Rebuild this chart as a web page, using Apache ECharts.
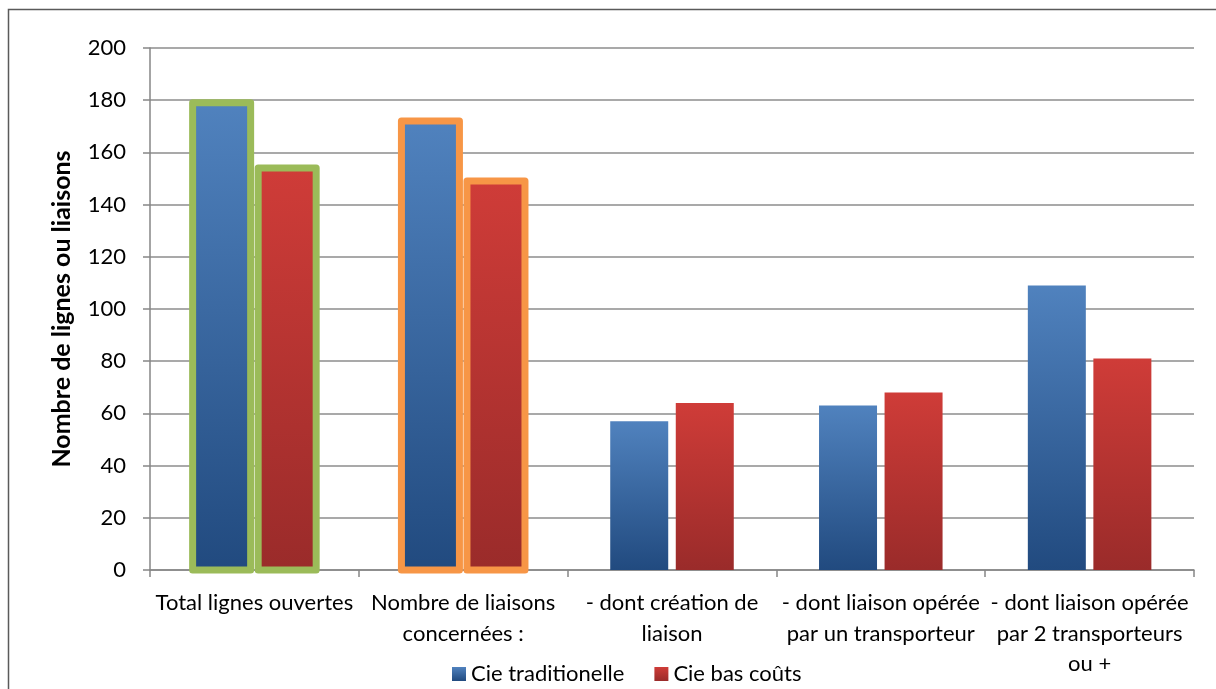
<!DOCTYPE html>
<html>
<head>
<meta charset="utf-8">
<script src="https://cdn.jsdelivr.net/npm/echarts@6/dist/echarts.min.js"></script>
<style>
  html, body { margin: 0; padding: 0; background: #ffffff; }
  #chart { width: 1216px; height: 689px; }
</style>
</head>
<body>
<div id="chart"></div>
<script>
// Categories of routes (lines break where the axis labels wrap)
const categories = [
  'Total lignes ouvertes',
  'Nombre de liaisons\nconcernées :',
  '- dont création de\nliaison',
  '- dont liaison opérée\npar un transporteur',
  '- dont liaison opérée\npar 2 transporteurs\nou +'
];
const seriesNames = ['Cie traditionelle', 'Cie bas coûts'];
const traditionnelle = [179, 172, 57, 63, 109];
const basCouts = [154, 149, 64, 68, 81];
const yTicks = { min: 0, max: 200, interval: 20 };
const yAxisTitle = 'Nombre de lignes ou liaisons';
// outline colour per category (null = no outline)
const outlineColors = ['#9bbb59', '#f79646', null, null, null];

const FONT = 'Lato, "Open Sans", sans-serif';
const BAR_WIDTH = 58;
const BAR_GAP = 0.13; // fraction of the bar width

const blueFill = new echarts.graphic.LinearGradient(0, 0, 0, 1, [
  { offset: 0, color: '#5082be' },
  { offset: 1, color: '#214a7f' }
]);
const redFill = new echarts.graphic.LinearGradient(0, 0, 0, 1, [
  { offset: 0, color: '#cf3c38' },
  { offset: 1, color: '#9a2b2a' }
]);

// rows for the outline overlay: [categoryIndex, value, seriesIndex]
const outlineRows = [];
categories.forEach((c, i) => {
  if (outlineColors[i]) {
    outlineRows.push([i, traditionnelle[i], 0]);
    outlineRows.push([i, basCouts[i], 1]);
  }
});

// outline drawn centred on the bar edge, using the axes' own coordinates
function renderOutline(params, api) {
  const cat = api.value(0);
  const val = api.value(1);
  const s = api.value(2);
  const top = api.coord([cat, val]);
  const base = api.coord([cat, 0]);
  const gap = BAR_WIDTH * BAR_GAP;
  const total = BAR_WIDTH * 2 + gap;
  const left = top[0] - total / 2 + s * (BAR_WIDTH + gap);
  return {
    type: 'rect',
    shape: { x: left, y: top[1], width: BAR_WIDTH, height: base[1] - top[1] },
    style: {
      fill: 'none',
      stroke: outlineColors[cat],
      lineWidth: 7,
      lineJoin: 'round'
    },
    silent: true
  };
}

const chart = echarts.init(document.getElementById('chart'), null, { renderer: 'canvas' });
chart.setOption({
  animation: false,
  backgroundColor: '#ffffff',
  textStyle: { fontFamily: FONT },
  graphic: [{
    type: 'rect',
    shape: { x: 8.5, y: 9.5, width: 1400, height: 900 },
    style: { fill: 'none', stroke: '#5a5a5a', lineWidth: 1.5 },
    silent: true
  }],
  grid: { left: 150, right: 22, top: 48, bottom: 119, containLabel: false },
  legend: {
    left: 447,
    top: 658,
    itemWidth: 14,
    itemHeight: 14,
    itemGap: 30,
    icon: 'rect',
    textStyle: { fontFamily: FONT, fontSize: 22, color: '#000000' },
    data: seriesNames
  },
  xAxis: {
    type: 'category',
    data: categories,
    boundaryGap: true,
    axisLine: { lineStyle: { color: '#868686', width: 1.5 } },
    axisTick: { show: true, length: 7, lineStyle: { color: '#868686', width: 1.5 } },
    axisLabel: {
      interval: 0,
      margin: 18,
      color: '#000000',
      fontFamily: FONT,
      fontSize: 22,
      lineHeight: 30.5
    }
  },
  yAxis: {
    type: 'value',
    min: yTicks.min,
    max: yTicks.max,
    interval: yTicks.interval,
    name: yAxisTitle,
    nameLocation: 'middle',
    nameGap: 76,
    nameRotate: 90,
    nameTextStyle: { fontFamily: FONT, fontSize: 25, fontWeight: 'bold', color: '#000000' },
    axisLine: { show: true, lineStyle: { color: '#868686', width: 1.5 } },
    axisTick: { show: true, length: 7, lineStyle: { color: '#868686', width: 1.5 } },
    axisLabel: { margin: 24, color: '#000000', fontFamily: FONT, fontSize: 22 },
    splitLine: { lineStyle: { color: '#8c8c8c', width: 1.6 } }
  },
  series: [
    {
      name: seriesNames[0],
      type: 'bar',
      data: traditionnelle,
      barWidth: BAR_WIDTH,
      barGap: (BAR_GAP * 100) + '%',
      itemStyle: { color: blueFill }
    },
    {
      name: seriesNames[1],
      type: 'bar',
      data: basCouts,
      barWidth: BAR_WIDTH,
      barGap: (BAR_GAP * 100) + '%',
      itemStyle: { color: redFill }
    },
    {
      name: 'outlines',
      type: 'custom',
      data: outlineRows,
      renderItem: renderOutline,
      encode: { x: 0, y: 1 },
      clip: false,
      z: 3
    }
  ]
});
</script>
</body>
</html>
